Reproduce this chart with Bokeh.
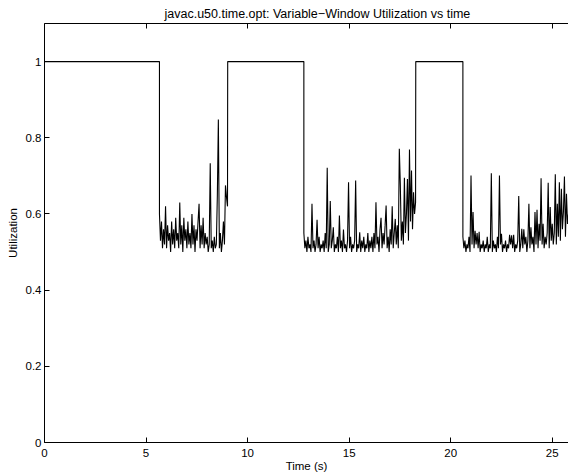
from bokeh.plotting import figure
from bokeh.models import LinearAxis, FixedTicker, Range1d
from bokeh.embed import file_html
from bokeh.resources import INLINE

title_text = "javac.u50.time.opt: Variable\u2212Window Utilization vs time"
x_label = "Time (s)"
y_label = "Utilization"
x_ticks = [0, 5, 10, 15, 20, 25]
y_ticks = [0, 0.2, 0.4, 0.6, 0.8, 1]
y_tick_labels = ["0", "0.2", "0.4", "0.6", "0.8", "1"]

# full-utilization phases (start, end) in seconds
high_starts = [0.0, 9.02, 18.28]
high_ends = [5.66, 12.77, 20.6]
high_level = 1.0

# sample spacing of the variable-window phases
sample_dt = 0.05

seg1 = [0.60, 0.53, 0.58, 0.51, 0.56, 0.52, 0.62, 0.51, 0.57, 0.53,
        0.55, 0.50, 0.58, 0.52, 0.56, 0.51, 0.59, 0.53, 0.55, 0.51,
        0.63, 0.52, 0.57, 0.50, 0.59, 0.53, 0.56, 0.51, 0.58, 0.52,
        0.55, 0.51, 0.60, 0.52, 0.57, 0.50, 0.56, 0.53, 0.58, 0.627,
        0.51, 0.57, 0.52, 0.59, 0.51, 0.55, 0.52, 0.54, 0.50, 0.52,
        0.733, 0.51, 0.53, 0.50, 0.54, 0.51, 0.52, 0.647, 0.848, 0.51,
        0.55, 0.50, 0.53, 0.58, 0.52, 0.675, 0.644, 0.62]

seg2 = [0.55, 0.51, 0.53, 0.50, 0.54, 0.51, 0.52, 0.50, 0.627, 0.51,
        0.53, 0.50, 0.52, 0.585, 0.51, 0.54, 0.50, 0.52, 0.51, 0.53,
        0.50, 0.55, 0.51, 0.721, 0.50, 0.52, 0.634, 0.51, 0.53, 0.565,
        0.50, 0.52, 0.51, 0.54, 0.50, 0.596, 0.51, 0.53, 0.50, 0.559,
        0.51, 0.52, 0.50, 0.53, 0.683, 0.51, 0.54, 0.50, 0.52, 0.51,
        0.53, 0.688, 0.50, 0.52, 0.51, 0.552, 0.50, 0.53, 0.51, 0.54,
        0.50, 0.52, 0.51, 0.55, 0.50, 0.53, 0.51, 0.54, 0.50, 0.55,
        0.51, 0.631, 0.52, 0.54, 0.50, 0.56, 0.59, 0.51, 0.55, 0.52,
        0.57, 0.622, 0.51, 0.54, 0.50, 0.56, 0.52, 0.62, 0.51, 0.55,
        0.587, 0.52, 0.57, 0.51, 0.771, 0.675, 0.53, 0.58, 0.52, 0.695,
        0.55, 0.60, 0.692, 0.53, 0.769, 0.58, 0.714, 0.56, 0.657, 0.60,
        0.63]

seg3 = [0.54, 0.51, 0.53, 0.50, 0.52, 0.51, 0.54, 0.50, 0.701, 0.52,
        0.605, 0.51, 0.556, 0.52, 0.55, 0.51, 0.553, 0.50, 0.52, 0.51,
        0.53, 0.50, 0.52, 0.51, 0.54, 0.50, 0.52, 0.51, 0.707, 0.50,
        0.53, 0.51, 0.52, 0.50, 0.54, 0.51, 0.701, 0.52, 0.548, 0.50,
        0.52, 0.51, 0.53, 0.50, 0.52, 0.51, 0.545, 0.52, 0.544, 0.51,
        0.545, 0.50, 0.52, 0.51, 0.53, 0.647, 0.50, 0.52, 0.561, 0.51,
        0.56, 0.52, 0.54, 0.50, 0.53, 0.627, 0.51, 0.565, 0.52, 0.54,
        0.50, 0.605, 0.52, 0.611, 0.51, 0.574, 0.53, 0.694, 0.52, 0.574,
        0.51, 0.54, 0.52, 0.55, 0.682, 0.51, 0.618, 0.53, 0.574, 0.52,
        0.55, 0.704, 0.52, 0.627, 0.54, 0.683, 0.53, 0.666, 0.56, 0.605,
        0.698, 0.54, 0.653, 0.574, 0.60, 0.55, 0.58]

segments = [seg1, seg2, seg3]

xs, ys = [], []
for k in range(3):
    xs += [high_starts[k], high_ends[k]]
    ys += [high_level, high_level]
    for i, v in enumerate(segments[k]):
        xs.append(high_ends[k] + sample_dt * i)
        ys.append(v)

FONT = "Liberation Sans"

p = figure(width=568, height=475,
           x_range=Range1d(0, 25.8), y_range=Range1d(0, 1.1),
           output_backend="svg", toolbar_location=None,
           min_border_left=44, min_border_right=0,
           min_border_top=23, min_border_bottom=33)
p.outline_line_color = None
p.grid.visible = False
p.background_fill_color = "white"
p.border_fill_color = "white"

p.line(xs, ys, line_color="black", line_width=1.1)

p.title.text = title_text
p.title.align = "left"
p.title.text_font = FONT
p.title.text_font_size = "12.5px"
p.title.text_font_style = "normal"
p.title.text_color = "black"
p.title.standoff = 5
p.title.offset = 120

for ax in [p.xaxis[0], p.yaxis[0]]:
    ax.major_tick_in = 5
    ax.major_tick_out = 0
    ax.minor_tick_line_color = None
    ax.axis_line_color = "black"
    ax.major_tick_line_color = "black"
    ax.major_label_text_font = FONT
    ax.major_label_text_font_size = "11.5px"
    ax.major_label_text_color = "black"
    ax.axis_label_text_font = FONT
    ax.axis_label_text_font_size = "11.5px"
    ax.axis_label_text_font_style = "normal"
    ax.axis_label_text_color = "black"

p.xaxis.ticker = FixedTicker(ticks=x_ticks)
p.yaxis.ticker = FixedTicker(ticks=y_ticks)
p.yaxis.major_label_overrides = {t: s for t, s in zip(y_ticks, y_tick_labels)}
p.xaxis.axis_label = x_label
p.yaxis.axis_label = y_label
p.xaxis.major_label_standoff = 6
p.xaxis.axis_label_standoff = 0
p.yaxis.major_label_standoff = 3
p.yaxis.axis_label_standoff = 4

top = LinearAxis(ticker=FixedTicker(ticks=x_ticks), major_tick_in=5, major_tick_out=0,
                 minor_tick_line_color=None, major_label_text_font_size="1px",
                 major_label_text_color=None, major_label_standoff=0,
                 axis_line_color="black")
p.add_layout(top, "above")

open("out.html", "w").write(file_html(p, INLINE))
